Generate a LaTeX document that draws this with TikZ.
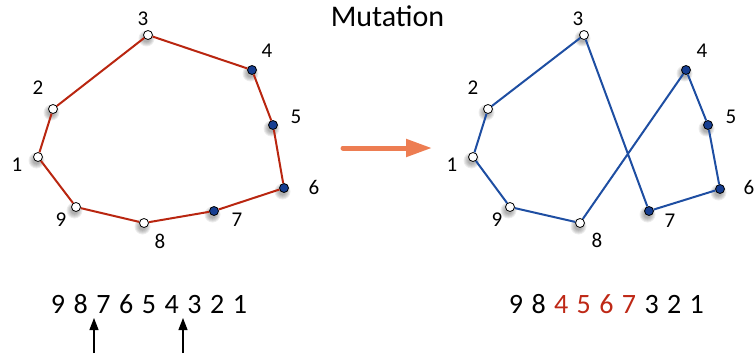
\documentclass[tikz,border=0pt]{standalone}
\usepackage{fontspec}
\setmainfont{Carlito}
\usetikzlibrary{arrows.meta}
\definecolor{tourred}{RGB}{185,38,16}
\definecolor{tourblue}{RGB}{30,78,162}
\definecolor{cityblue}{RGB}{22,62,145}
\definecolor{mutorange}{RGB}{237,125,82}
\definecolor{cutred}{RGB}{190,40,22}
\pgfdeclarelayer{background}
\pgfsetlayers{background,main}
\tikzset{
  city/.style={circle, draw=black, line width=0.8pt, inner sep=0pt, minimum size=9pt},
  open/.style={city, fill=white},
  moved/.style={city, fill=cityblue},
  citylabel/.style={font=\fontsize{21}{21}\selectfont, inner sep=0pt},
  seqdigit/.style={font=\fontsize{28}{28}\selectfont, inner sep=0pt, anchor=base},
  redtour/.style={draw=tourred, line width=2pt},
  bluetour/.style={draw=tourblue, line width=2pt},
  cutmark/.style={-{Triangle[length=12pt,width=9pt]}, line width=1.2pt},
  softshade/.style={fill=black, opacity=0.07},
}
\begin{document}
\begin{tikzpicture}[x=1pt, y=-1pt]
\useasboundingbox (0,0) rectangle (754,353);

% ---- original tour ----
\node[open]  (a1) at (38,157) {};
\node[open]  (a2) at (53,109) {};
\node[open]  (a3) at (148,35) {};
\node[moved] (a4) at (252,70) {};
\node[moved] (a5) at (273,125) {};
\node[moved] (a6) at (284,188) {};
\node[moved] (a7) at (214,211) {};
\node[open]  (a8) at (144,223) {};
\node[open]  (a9) at (76,207) {};
\draw[redtour] (a1)--(a2) (a2)--(a3) (a3)--(a4) (a4)--(a5) (a5)--(a6)
  (a6)--(a7) (a7)--(a8) (a8)--(a9) (a9)--(a1);
\node[citylabel] at (17,165) {1};
\node[citylabel] at (38,88) {2};
\node[citylabel] at (143,19) {3};
\node[citylabel] at (267,51) {4};
\node[citylabel] at (296,117) {5};
\node[citylabel] at (314,187) {6};
\node[citylabel] at (237,220) {7};
\node[citylabel] at (160,241) {8};
\node[citylabel] at (61,220) {9};

% ---- mutated tour ----
\node[open]  (b1) at (473,157) {};
\node[open]  (b2) at (488,109) {};
\node[open]  (b3) at (584,35) {};
\node[moved] (b4) at (686,70) {};
\node[moved] (b5) at (708,125) {};
\node[moved] (b6) at (720,189) {};
\node[moved] (b7) at (649,211) {};
\node[open]  (b8) at (580,223) {};
\node[open]  (b9) at (510,207) {};
\draw[bluetour] (b1)--(b2) (b2)--(b3) (b3)--(b7) (b7)--(b6) (b6)--(b5)
  (b5)--(b4) (b4)--(b8) (b8)--(b9) (b9)--(b1);
\node[citylabel] at (452,165) {1};
\node[citylabel] at (473,88) {2};
\node[citylabel] at (578,19) {3};
\node[citylabel] at (702,51) {4};
\node[citylabel] at (731,117) {5};
\node[citylabel] at (749,187) {6};
\node[citylabel] at (670,221) {7};
\node[citylabel] at (597,240) {8};
\node[citylabel] at (497,220) {9};

% soft shadows under every city
\begin{pgfonlayer}{background}
  \foreach \n in {a1,a2,a3,a4,a5,a6,a7,a8,a9,b1,b2,b3,b4,b5,b6,b7,b8,b9}
    \foreach \r in {8,7,6,5,4}
      \fill[softshade] ([shift={(-1.5,3.5)}]\n.center) circle[radius=\r];
\end{pgfonlayer}

% ---- title and transition arrow ----
\node[font=\fontsize{30}{30}\selectfont, inner sep=0pt, anchor=base] (title) at (387.5,27) {Mutation};
\coordinate (arrstart) at (343,148);
\coordinate (arrend) at (432,148);
\draw[mutorange, line width=5pt, line cap=round, -{Triangle[length=26pt,width=17pt]}]
  (arrstart) -- (arrend);

% ---- chromosome strings ----
\foreach \d [count=\i from 0] in {9,8,7,6,5,4,3,2,1}
  \node[seqdigit] (s\i) at (58+22.75*\i,313.5) {\d};
\foreach \d/\c [count=\i from 0] in {9/black,8/black,4/cutred,5/cutred,6/cutred,7/cutred,3/black,2/black,1/black}
  \node[seqdigit, text=\c] (t\i) at (516+22.6*\i,313.5) {\d};

% ---- cut points ----
\coordinate (cutA0) at (94,353);
\coordinate (cutA1) at (94,318);
\coordinate (cutB0) at (183,353);
\coordinate (cutB1) at (183,318);
\draw[cutmark] (cutA0) -- (cutA1);
\draw[cutmark] (cutB0) -- (cutB1);
\end{tikzpicture}
\end{document}
